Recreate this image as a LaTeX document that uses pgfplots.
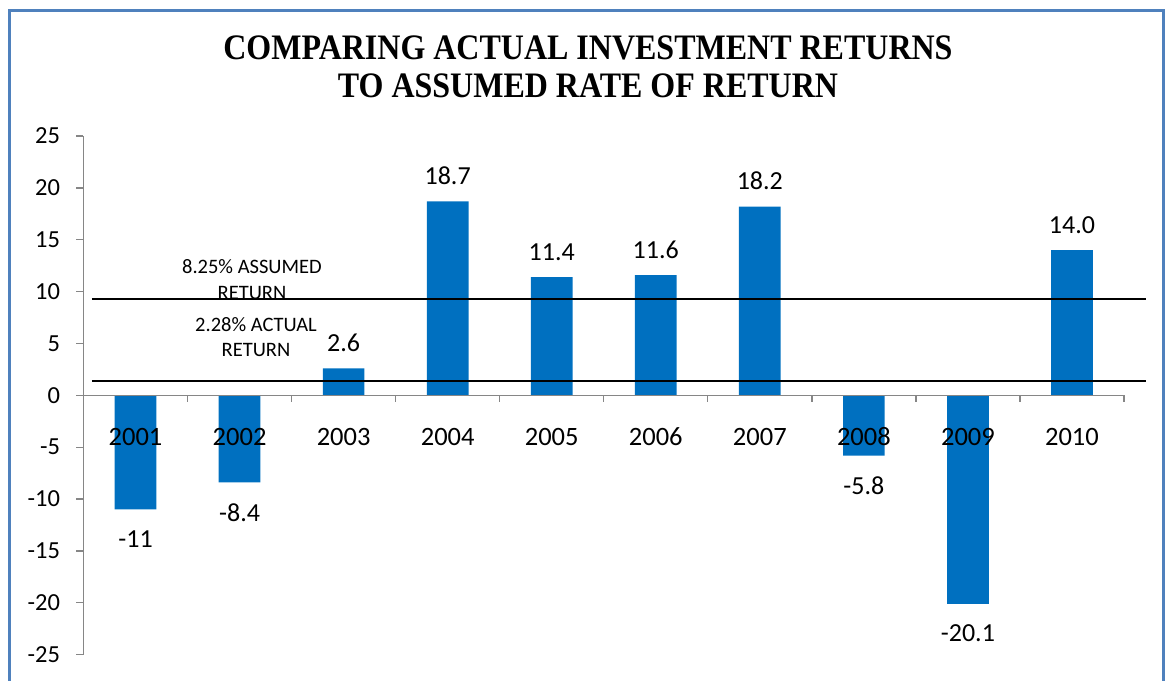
\documentclass[border=0pt]{standalone}
\usepackage{pgfplots}
\pgfplotsset{compat=1.18}
\usepackage{pgfplotstable}
\usepackage{fontspec}
\setmainfont{Carlito}
\newfontfamily\titlefont{Liberation Serif}
\definecolor{barblue}{RGB}{0,112,192}
\definecolor{frameblue}{RGB}{79,129,189}
\definecolor{axisgray}{RGB}{134,134,134}
\pgfplotstableread{
x y label
0 -11 -11
1 -8.4 -8.4
7 -5.8 -5.8
8 -20.1 -20.1
}\negdata
\pgfplotstableread{
x y label
2 2.6 2.6
3 18.7 18.7
4 11.4 11.4
5 11.6 11.6
6 18.2 18.2
9 14.0 14.0
}\posdata
\begin{document}
\begin{tikzpicture}
\begin{axis}[
  scale only axis, width=1040.5pt, height=518.7pt,
  xmin=-0.5, xmax=9.5, ymin=-25, ymax=25,
  axis x line=middle, axis y line=left,
  axis line style={draw=axisgray, line width=1.3pt, -},
  axis on top,
  ytick={-25,-20,...,25},
  y tick style={draw=axisgray, line width=1.3pt},
  tick align=outside, major tick length=7pt,
  xtick={0,...,9},
  xticklabels={2001,2002,2003,2004,2005,2006,2007,2008,2009,2010},
  x tick style={draw=none},
  /pgf/number format/assume math mode=true,
  yticklabel style={font=\fontsize{24.5}{28}\selectfont, xshift=-13pt},
  xticklabel style={font=\fontsize{26.5}{30}\selectfont, text height=18pt, yshift=-22pt},
  clip=false,
  ybar, bar width=41.7pt, bar shift=0pt,
]
\addplot[fill=barblue, draw=none, nodes near coords, point meta=explicit symbolic,
  every node near coord/.append style={font=\fontsize{26}{30}\selectfont, anchor=south, yshift=13pt}]
  table[x=x, y=y, meta=label] {\posdata};
\addplot[fill=barblue, draw=none, nodes near coords, point meta=explicit symbolic,
  every node near coord/.append style={font=\fontsize{26}{30}\selectfont, anchor=north, yshift=-17.5pt}]
  table[x=x, y=y, meta=label] {\negdata};
\addplot[sharp plot, black, line width=1.5pt] coordinates {(-0.42,9.3) (9.71,9.3)};
\addplot[sharp plot, black, line width=1.5pt] coordinates {(-0.42,1.4) (9.71,1.4)};
\pgfplotsinvokeforeach{-0.5,0.5,...,9.5}{
  \draw[axisgray, line width=1.3pt] (axis cs:#1,0) -- ([yshift=-7pt]axis cs:#1,0);
}
\node[font=\fontsize{20.5}{26}\selectfont, align=center] at (axis cs:1.119,11.2) {8.25\% ASSUMED\\RETURN};
\node[font=\fontsize{20.5}{25}\selectfont, align=center] at (axis cs:1.158,5.57) {2.28\% ACTUAL\\RETURN};
\coordinate (O) at (rel axis cs:0,0);
\end{axis}
\pgfresetboundingbox
\begin{scope}[shift={(O)}, xshift=-83.5pt, yshift=-25.3pt, x=1pt, y=1pt]
\useasboundingbox (0,0) rectangle (1167,680);
\draw[frameblue, line width=3.5pt] (9.5,-20) -- (9.5,669.5) -- (1163.3,669.5) -- (1163.3,-20);
\node[font=\titlefont\bfseries\fontsize{32}{33.5}\selectfont, align=center, yscale=1.12] at (588,613.25) {COMPARING ACTUAL INVESTMENT RETURNS\\TO ASSUMED RATE OF RETURN};
\end{scope}
\end{tikzpicture}
\end{document}
